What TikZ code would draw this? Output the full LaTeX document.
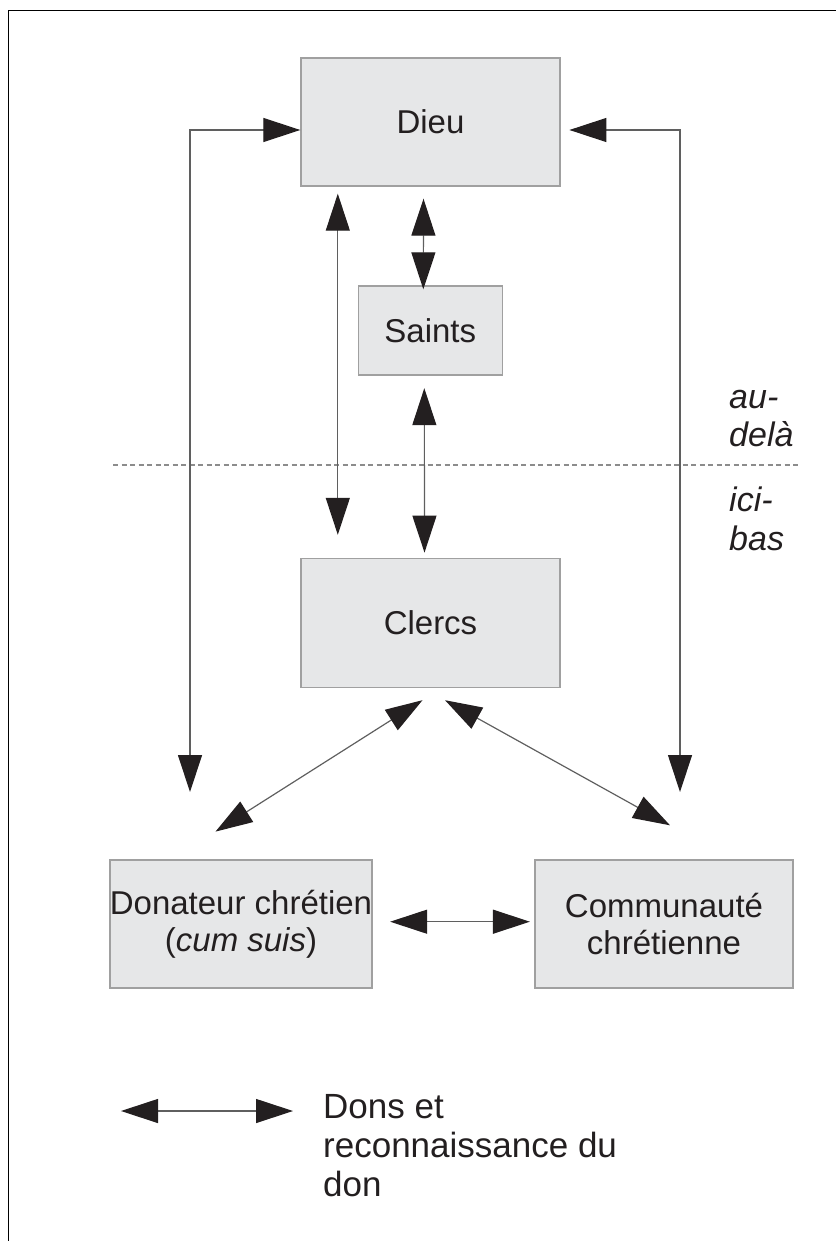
\documentclass[tikz,border=0pt]{standalone}
\usepackage{fontspec}
\setmainfont{Liberation Sans}
\usetikzlibrary{arrows.meta,calc}
\definecolor{boxfill}{RGB}{230,231,232}
\definecolor{boxline}{RGB}{160,160,160}
\definecolor{linkgray}{RGB}{95,95,95}
\definecolor{ink}{RGB}{35,31,32}
\definecolor{dashgray}{RGB}{140,140,140}
\tikzset{
  bx/.style={draw=boxline, fill=boxfill, line width=1.4pt, inner sep=0pt,
    text=ink, align=center, font=\fontsize{33}{37}\selectfont},
  dbl/.style={draw=linkgray, line width=1.2pt,
    {Triangle[length=37pt,width=24pt,color=ink]}-{Triangle[length=37pt,width=24pt,color=ink]}},
  side/.style={inner sep=0pt, text=ink, align=left, font=\fontsize{34}{38.5}\selectfont\itshape},
  legtext/.style={inner sep=0pt, text=ink, align=left, font=\fontsize{35}{39}\selectfont}
}
\begin{document}
\begin{tikzpicture}[x=1pt,y=-1pt]
\useasboundingbox (0,0) rectangle (836,1241);
% frame
\draw[line width=1pt, black] (8,1241) -- (8,11) -- (836,11);

% boxes
\node[bx, minimum width=259pt, minimum height=128pt] (dieu) at (430.5,122) {Dieu};
\node[bx, minimum width=144pt, minimum height=89pt] (saints) at (430.3,330.5) {Saints};
\node[bx, minimum width=259pt, minimum height=129pt] (clercs) at (430.5,623) {Clercs};
\node[bx, minimum width=259pt, minimum height=128pt] (donat) at (241,924) {Donateur chrétien\\(\textit{cum suis})};
\node[bx, minimum width=258pt, minimum height=128pt] (commu) at (664,924) {Communauté\\chrétienne};

% separator
\coordinate (sepL) at (113,465);
\coordinate (sepR) at (798,465);
\draw[dashgray, line width=1.2pt, dash pattern=on 5pt off 3.5pt] (sepL) -- (sepR);

% side labels (base anchor = baseline of last line)
\node[side, anchor=base west] (audela) at (729,446.7) {au-\\delà};
\node[side, anchor=base west] (icibas) at (729,550) {ici-\\bas};

% loops
\coordinate (lt) at (190,792);
\coordinate (rt) at (680,792);
\draw[dbl] ($(dieu.west)+(0,8)$) -| (lt);
\draw[dbl] ($(dieu.east)+(8.7,8)$) -| (rt);

% verticals
\draw[dbl] ($(dieu.south west)+(37.5,7)$) -- ($(clercs.north west)+(37.5,-23)$);
\draw[dbl] ($(dieu.south)+(-7,12)$) -- ($(saints.north)+(-7,4)$);
\draw[dbl] ($(saints.south)+(-6,12.5)$) -- ($(clercs.north)+(-6,-5.2)$);

% diagonals
\draw[dbl] ($(clercs.south)+(-8,12)$) -- ($(donat.north)+(-25.5,-27.7)$);
\draw[dbl] ($(clercs.south)+(14.5,12)$) -- ($(commu.north)+(6,-34)$);

% horizontal
\draw[dbl] ($(donat.east)+(17.3,-2.3)$) -- ($(commu.west)+(-4.4,-2.3)$);

% legend
\coordinate (legA) at (121,1111);
\coordinate (legB) at (293,1111);
\draw[dbl] (legA) -- (legB);
\node[legtext, anchor=base west] (legend) at (323,1196.7) {Dons et\\reconnaissance du\\don};
\end{tikzpicture}
\end{document}
